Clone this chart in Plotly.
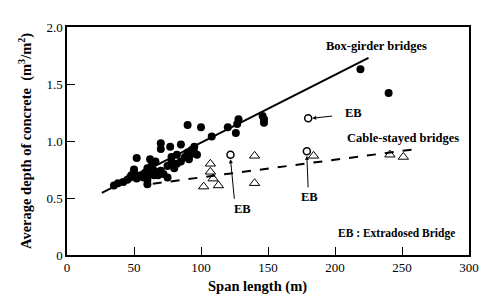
import plotly.graph_objects as go

# Box-girder bridges (filled circles)
box_x = [35, 38, 42, 45, 47, 48, 50, 50, 52, 52, 55, 57, 58, 60, 60, 60, 60, 60, 62, 63,
         65, 65, 66, 68, 70, 70, 70, 72, 75, 75, 77, 78, 78, 80, 82, 82, 85, 85, 88, 90,
         90, 91, 92, 93, 95, 95, 97, 100, 108, 120, 126, 127, 128, 146, 147, 147, 219, 240]
box_y = [0.61, 0.63, 0.64, 0.66, 0.68, 0.70, 0.72, 0.75, 0.67, 0.85, 0.70, 0.68, 0.72, 0.62, 0.66, 0.70, 0.73, 0.76, 0.84, 0.78,
         0.70, 0.74, 0.82, 0.70, 0.74, 0.93, 0.98, 0.71, 0.78, 0.68, 0.95, 0.82, 0.86, 0.76, 0.80, 0.88, 0.97, 0.82, 0.86, 0.90,
         1.14, 0.84, 0.88, 0.92, 0.95, 0.90, 0.88, 1.12, 1.04, 1.12, 1.07, 1.15, 1.19, 1.22, 1.19, 1.16, 1.63, 1.42]

# Cable-stayed bridges (open triangles)
cable_x = [102, 107, 107, 109, 113, 140, 140, 184, 241, 251]
cable_y = [0.60, 0.80, 0.73, 0.67, 0.61, 0.87, 0.63, 0.87, 0.88, 0.86]

# Extradosed bridges (open circles)
eb_x = [122, 180, 179]
eb_y = [0.88, 1.20, 0.91]

# Trend lines
fit_box_x = [26, 225]
fit_box_y = [0.545, 1.73]
fit_cable_x = [64, 261]
fit_cable_y = [0.625, 0.93]

x_ticks = [0, 50, 100, 150, 200, 250, 300]
y_ticks = [0, 0.5, 1.0, 1.5, 2.0]
y_tick_labels = ["0", "0.5", "1.0", "1.5", "2.0"]

FONT = "Liberation Serif"

fig = go.Figure()
fig.add_trace(go.Scatter(x=fit_box_x, y=fit_box_y, mode="lines",
                         line=dict(color="black", width=2), showlegend=False))
fig.add_trace(go.Scatter(x=fit_cable_x, y=fit_cable_y, mode="lines",
                         line=dict(color="black", width=2, dash="dash"), showlegend=False))
fig.add_trace(go.Scatter(x=box_x, y=box_y, mode="markers",
                         marker=dict(symbol="circle", size=8, color="black"), showlegend=False))
fig.add_trace(go.Scatter(x=cable_x, y=cable_y, mode="markers",
                         marker=dict(symbol="triangle-up-open", size=9, color="black",
                                     line=dict(width=1)), showlegend=False))
fig.add_trace(go.Scatter(x=eb_x, y=eb_y, mode="markers",
                         marker=dict(symbol="circle-open", size=7, color="black",
                                     line=dict(width=1.5)), showlegend=False))

ann_font = dict(family=FONT, size=12.5, color="black")
arrow = dict(xref="x", yref="y", axref="x", ayref="y", text="", showarrow=True,
             arrowhead=2, arrowsize=0.8, arrowwidth=1, arrowcolor="black")
annotations = [
    dict(x=231, y=1.83, text="<b>Box-girder bridges</b>", showarrow=False, font=ann_font),
    dict(x=251, y=1.03, text="<b>Cable-stayed bridges</b>", showarrow=False, font=ann_font),
    dict(x=246, y=0.19, text="<b>EB : Extradosed Bridge</b>", showarrow=False,
         font=dict(family=FONT, size=11.5, color="black")),
    dict(x=214, y=1.245, text="<b>EB</b>", showarrow=False, font=ann_font),
    dict(x=131, y=0.40, text="<b>EB</b>", showarrow=False, font=ann_font),
    dict(x=181, y=0.51, text="<b>EB</b>", showarrow=False, font=ann_font),
    dict(x=183, y=1.20, ax=199, ay=1.22, **arrow),
    dict(x=122, y=0.84, ax=125, ay=0.48, **arrow),
    dict(x=179, y=0.87, ax=180, ay=0.58, **arrow),
    dict(x=0.475, y=0, xref="paper", yref="paper", yanchor="top", yshift=-21,
         text="<b>Span length (m)</b>", showarrow=False,
         font=dict(family=FONT, size=14.5, color="black")),
    dict(x=0, y=0.5, xref="paper", yref="paper", xanchor="center", xshift=-42,
         textangle=-90, text="<b>Average depth of concrete  (m<sup>3</sup>/m<sup>2</sup>)</b>",
         showarrow=False, font=dict(family=FONT, size=14.5, color="black")),
]
fig.update_layout(annotations=annotations)

# page body adds an 8px offset, so the figure is sized to fit the window
fig.update_layout(
    width=483, height=289,
    margin=dict(l=59, r=12, t=18, b=42),
    paper_bgcolor="white", plot_bgcolor="white",
    font=dict(family=FONT, size=13, color="black"),
    xaxis=dict(range=[0, 300], tickvals=x_ticks, ticks="inside", ticklen=8,
               tickcolor="black", showgrid=False, zeroline=False, showline=True,
               linecolor="black", linewidth=1.5, mirror=True,
               tickfont=dict(family=FONT, size=13, color="black")),
    yaxis=dict(range=[0, 2], tickvals=y_ticks, ticktext=y_tick_labels, ticks="inside",
               ticklen=8, tickcolor="black", showgrid=False, zeroline=False, showline=True,
               linecolor="black", linewidth=1.5, mirror=True,
               tickfont=dict(family=FONT, size=13, color="black")),
)

fig.write_html("out.html")
